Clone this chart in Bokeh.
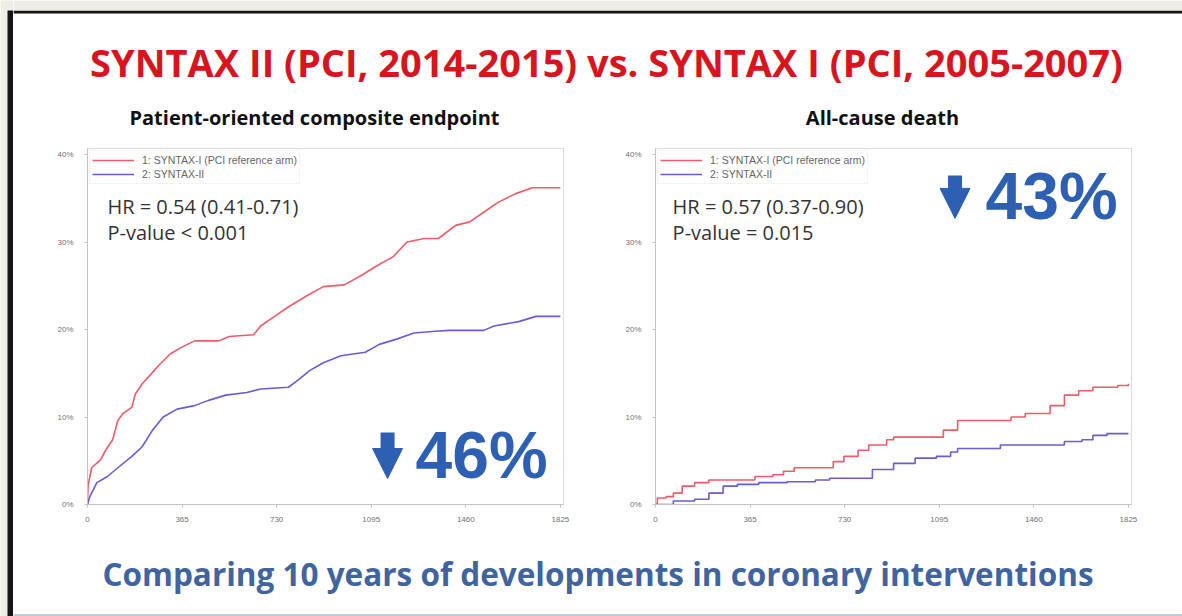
from bokeh.plotting import figure
from bokeh.layouts import row, column
from bokeh.models import (Range1d, FixedTicker, PrintfTickFormatter, Legend, LegendItem,
                          Arrow, NormalHead, Label, BoxAnnotation)
from bokeh.embed import file_html
from bokeh.resources import INLINE

# ---------------- data ----------------
day_ticks = [0, 365, 730, 1095, 1460, 1825]
pct_ticks = [0, 10, 20, 30, 40]
series_names = ["1: SYNTAX-I (PCI reference arm)", "2: SYNTAX-II"]

main_title = "SYNTAX II (PCI, 2014-2015) vs. SYNTAX I (PCI, 2005-2007)"
panel_titles = ["Patient-oriented composite endpoint", "All-cause death"]
footer_text = "Comparing 10 years of developments in coronary interventions"
hr_texts = ["HR = 0.54 (0.41-0.71)", "HR = 0.57 (0.37-0.90)"]
p_texts = ["P-value  < 0.001", "P-value  = 0.015"]
reduction_texts = ["46%", "43%"]

# Patient-oriented composite endpoint (cumulative %, days)
poce_s1_days = [0, 2, 16, 50, 70, 97, 117, 137, 171, 184, 211, 245, 278, 319, 359, 413, 507, 547,
                641, 668, 722, 776, 843, 910, 991, 1058, 1112, 1179, 1233, 1300, 1354, 1421, 1475,
                1529, 1583, 1650, 1717, 1825]
poce_s1_pct = [0, 2.1, 4.2, 5.1, 6.2, 7.4, 9.6, 10.4, 11.1, 12.6, 13.8, 14.9, 16.0, 17.2, 17.9,
               18.7, 18.7, 19.2, 19.4, 20.4, 21.5, 22.6, 23.8, 24.9, 25.1, 26.2, 27.2, 28.3, 30.0,
               30.4, 30.4, 31.9, 32.3, 33.4, 34.5, 35.5, 36.2, 36.2]
poce_s2_days = [0, 9, 36, 77, 117, 171, 211, 251, 292, 346, 413, 467, 534, 615, 668, 776, 816,
                857, 910, 978, 1072, 1126, 1193, 1260, 1341, 1395, 1529, 1569, 1664, 1731, 1825]
poce_s2_pct = [0, 0.9, 2.5, 3.2, 4.2, 5.5, 6.6, 8.5, 10.0, 10.9, 11.3, 11.9, 12.5, 12.8, 13.2,
               13.4, 14.3, 15.3, 16.2, 17.0, 17.4, 18.3, 18.9, 19.6, 19.8, 19.9, 19.9, 20.4, 20.9,
               21.5, 21.5]

# All-cause death (cumulative %, days)
death_s1_days = [0, 7, 41, 69, 103, 151, 206, 343, 384, 453, 494, 535, 645, 686, 727, 782, 823,
                 892, 919, 1084, 1111, 1166, 1358, 1372, 1427, 1523, 1578, 1633, 1688, 1784, 1825]
death_s1_pct = [0, 0.75, 0.9, 1.3, 2.1, 2.5, 2.8, 2.8, 3.2, 3.4, 3.8, 4.2, 4.2, 4.9, 5.5, 6.2,
                6.8, 7.4, 7.7, 7.7, 8.5, 9.6, 9.6, 10.0, 10.4, 11.3, 12.5, 13.0, 13.4, 13.6, 13.8]
death_s2_days = [0, 69, 151, 206, 261, 316, 398, 508, 617, 672, 782, 837, 919, 1002, 1084, 1139,
                 1166, 1248, 1331, 1509, 1578, 1646, 1688, 1742, 1825]
death_s2_pct = [0, 0.4, 0.6, 1.3, 2.1, 2.3, 2.5, 2.6, 2.8, 3.0, 3.0, 4.0, 4.7, 5.3, 5.5, 6.0,
                6.4, 6.4, 6.8, 6.8, 7.2, 7.4, 7.9, 8.1, 8.1]

# ---------------- styles ----------------
RED = "#ef5b68"
BLUE = "#6a5cd4"
BIG_BLUE = "#2d60b2"
TITLE_RED = "#d8141e"
FOOT_BLUE = "#3f64a0"
BEIGE = "#efeee6"
TEXT_FONT = "Open Sans"


def blank(w, h, **kw):
    f = figure(width=w, height=h, x_range=Range1d(0, w), y_range=Range1d(0, h),
               output_backend="svg", toolbar_location=None, title=None, min_border=0,
               x_axis_location=None, y_axis_location=None, outline_line_color=None, **kw)
    f.xgrid.visible = False
    f.ygrid.visible = False
    return f


def chart(w, border_left, border_right, s1x, s1y, s2x, s2y, stepped, hr, pv, big,
          hr_x, arrow_x, big_x, arrow_top, arrow_tip, big_y):
    p = figure(width=w, height=400, x_range=Range1d(0, 1837), y_range=Range1d(0, 40.686),
               output_backend="svg", toolbar_location=None, title=None,
               min_border_left=border_left, min_border_right=border_right,
               min_border_top=8, min_border_bottom=36,
               background_fill_color="white", border_fill_color="white",
               outline_line_color="#dadada")
    p.xgrid.visible = False
    p.ygrid.visible = False
    if stepped:
        r1 = p.step(s1x, s1y, mode="after", line_color=RED, line_width=1.6)
        r2 = p.step(s2x, s2y, mode="after", line_color=BLUE, line_width=1.6)
    else:
        r1 = p.line(s1x, s1y, line_color=RED, line_width=1.6)
        r2 = p.line(s2x, s2y, line_color=BLUE, line_width=1.6)

    p.xaxis.ticker = FixedTicker(ticks=day_ticks)
    p.yaxis.ticker = FixedTicker(ticks=pct_ticks)
    p.yaxis.formatter = PrintfTickFormatter(format="%d%%")
    for ax in (p.xaxis[0], p.yaxis[0]):
        ax.axis_line_color = "#c4c4c4"
        ax.major_tick_line_color = "#c4c4c4"
        ax.major_tick_out = 3
        ax.major_tick_in = 0
        ax.minor_tick_line_color = None
        ax.major_label_text_font = "Liberation Sans"
        ax.major_label_text_font_size = "8px"
        ax.major_label_text_color = "#707070"
    p.xaxis.major_label_standoff = 9
    p.yaxis.major_label_standoff = 11

    legend = Legend(items=[LegendItem(label=series_names[0], renderers=[r1]),
                           LegendItem(label=series_names[1], renderers=[r2])],
                    location="top_left", margin=2, padding=2, spacing=0,
                    glyph_width=42, glyph_height=14, label_height=14, label_standoff=8,
                    label_text_font="Liberation Sans", label_text_font_size="10.5px",
                    label_text_color="#666666", border_line_color="#e8e8e8",
                    background_fill_color="white", background_fill_alpha=1.0)
    p.add_layout(legend)

    p.add_layout(Label(x=hr_x, y=34.06, text=hr, text_font=TEXT_FONT, text_font_size="20px",
                       text_color="#333333", text_baseline="alphabetic"))
    p.add_layout(Label(x=hr_x, y=31.1, text=pv, text_font=TEXT_FONT, text_font_size="20px",
                       text_color="#333333", text_baseline="alphabetic"))

    # down arrow
    head_len = 3.43
    p.add_layout(Arrow(x_start=arrow_x, y_start=arrow_top, x_end=arrow_x,
                       y_end=arrow_tip + head_len - 0.3, end=None,
                       line_color=BIG_BLUE, line_width=14))
    p.add_layout(Arrow(x_start=arrow_x, y_start=arrow_tip + 0.6, x_end=arrow_x, y_end=arrow_tip,
                       end=NormalHead(size=30, fill_color=BIG_BLUE, line_color=BIG_BLUE),
                       line_alpha=0))
    p.add_layout(Label(x=big_x, y=big_y, text=big, text_font="Liberation Sans",
                       text_font_style="bold", text_font_size="66px", text_color=BIG_BLUE,
                       text_baseline="alphabetic"))
    return p


left = chart(587, 74, 37, poce_s1_days, poce_s1_pct, poce_s2_days, poce_s2_pct, False,
             hr_texts[0], p_texts[0], reduction_texts[0],
             hr_x=77, arrow_x=1158, big_x=1266, arrow_top=8.23, arrow_tip=2.97, big_y=5.71)
right = chart(582, 55, 51, death_s1_days, death_s1_pct, death_s2_days, death_s2_pct, True,
              hr_texts[1], p_texts[1], reduction_texts[1],
              hr_x=66, arrow_x=1156, big_x=1274, arrow_top=37.6, arrow_tip=32.7, big_y=35.3)

header = blank(1169, 140, background_fill_color="white", border_fill_color="white")
header.add_layout(BoxAnnotation(bottom=127, top=130, fill_color="#151515", fill_alpha=1.0,
                                line_alpha=0))
header.add_layout(BoxAnnotation(bottom=130, fill_color=BEIGE, fill_alpha=1.0, line_alpha=0))
header.add_layout(Label(x=593, y=78.2, text=main_title, text_align="center",
                        text_baseline="alphabetic", text_font=TEXT_FONT,
                        text_font_style="bold", text_font_size="38px", text_color=TITLE_RED))
header.add_layout(Label(x=301, y=23, text=panel_titles[0], text_align="center",
                        text_baseline="alphabetic", text_font=TEXT_FONT,
                        text_font_style="bold", text_font_size="20px", text_color="#111111"))
header.add_layout(Label(x=869, y=23, text=panel_titles[1], text_align="center",
                        text_baseline="alphabetic", text_font=TEXT_FONT,
                        text_font_style="bold", text_font_size="20px", text_color="#111111"))

footer = blank(1169, 76, background_fill_color="white", border_fill_color="white")
footer.add_layout(BoxAnnotation(top=2.5, fill_color="#c5ced6", fill_alpha=1.0, line_alpha=0))
footer.add_layout(Label(x=584.5, y=43.5, text=footer_text, text_align="center",
                        text_baseline="alphabetic", text_font=TEXT_FONT,
                        text_font_style="bold", text_font_size="31.5px", text_color=FOOT_BLUE))

strip = blank(13, 616, background_fill_color=BEIGE, border_fill_color=BEIGE)
strip.add_layout(BoxAnnotation(left=7, top=606, fill_color="#151515", fill_alpha=1.0,
                               line_alpha=0))

page = row(strip, column(header, row(left, right), footer))

open("out.html", "w").write(file_html(page, INLINE))
